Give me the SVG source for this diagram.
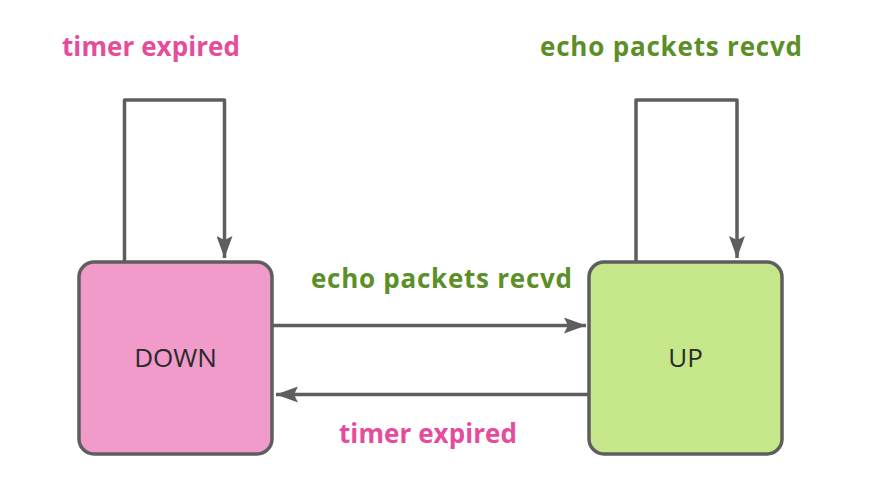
<svg xmlns="http://www.w3.org/2000/svg" width="872" height="484" viewBox="0 0 872 484">
<style>
.node{stroke:#5e5e5e;stroke-width:3.5}
.down{fill:#f09bca}
.up{fill:#c5e78a}
.name{font-family:"Open Sans","Liberation Sans",sans-serif;font-size:26px;fill:#2a2a2a;text-anchor:middle}
.lbl{font-family:"Open Sans","Liberation Sans",sans-serif;font-weight:bold;font-size:26px}
.pink{fill:#e54c9c}
.green{fill:#5b8f27}
.edge{fill:none;stroke:#5e5e5e;stroke-width:3.5;stroke-linejoin:round}
</style>
<defs>
<marker id="arr" viewBox="0 0 22 16" refX="22" refY="8" markerWidth="22" markerHeight="16" markerUnits="userSpaceOnUse" orient="auto">
<path d="M0,0 L22,8 L0,16 L4,8 Z" fill="#5e5e5e"/>
</marker>
</defs>
<rect width="872" height="484" fill="#ffffff"/>
<g id="connectors">
<path class="edge" d="M124.5,262 V100 H224.5 V258" marker-end="url(#arr)"/>
<path class="edge" d="M636,262 V100 H737 V258" marker-end="url(#arr)"/>
<path class="edge" d="M273,325.5 H586" marker-end="url(#arr)"/>
<path class="edge" d="M589,394.5 H276" marker-end="url(#arr)"/>
</g>
<g id="labels">
<text class="lbl pink" x="62" y="56" textLength="178">timer expired</text>
<text class="lbl green" x="540" y="56" textLength="262">echo packets recvd</text>
<text class="lbl green" x="311" y="288" textLength="261">echo packets recvd</text>
<text class="lbl pink" x="339" y="443" textLength="178">timer expired</text>
</g>
<g id="node-down">
<rect class="node down" x="79" y="262" width="193" height="192" rx="15"/>
<text class="name" x="175.5" y="367">DOWN</text>
</g>
<g id="node-up">
<rect class="node up" x="589" y="262" width="193" height="192" rx="15"/>
<text class="name" x="685.5" y="367">UP</text>
</g>
</svg>
